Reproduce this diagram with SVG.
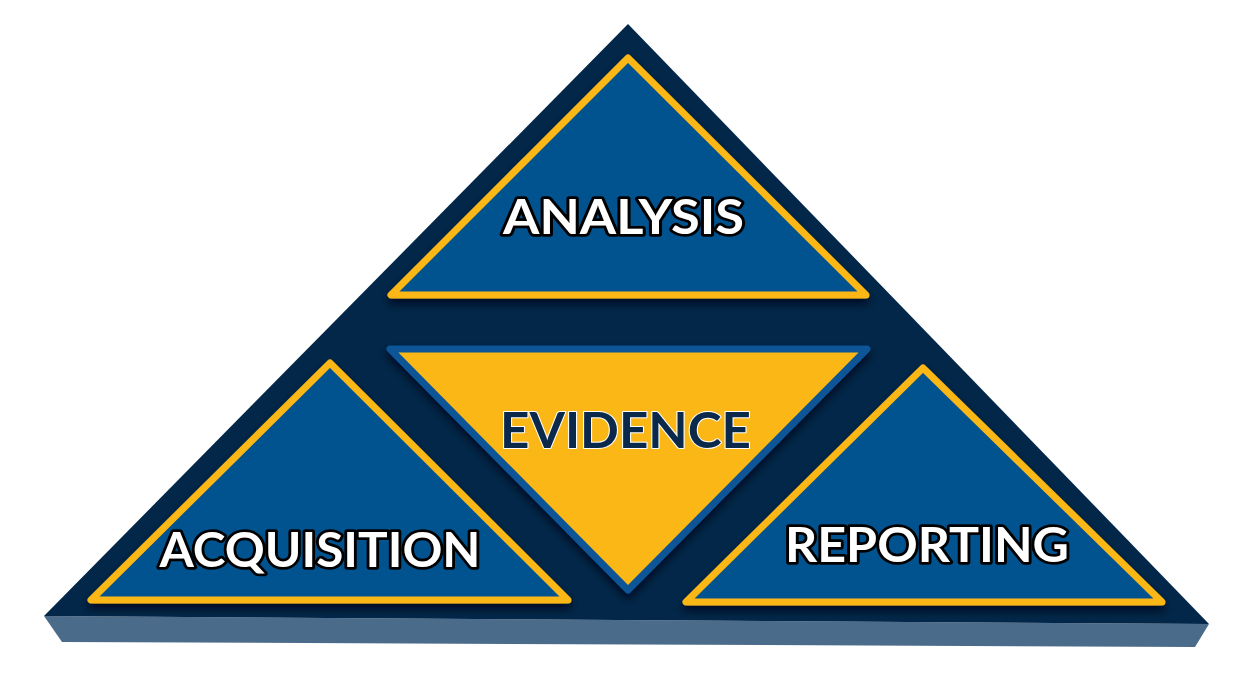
<svg xmlns="http://www.w3.org/2000/svg" width="1246" height="679" viewBox="0 0 1246 679">
<defs>
<filter id="sh" x="-10%" y="-10%" width="120%" height="130%">
<feGaussianBlur in="SourceAlpha" stdDeviation="4"/>
<feOffset dx="0" dy="5" result="b"/>
<feFlood flood-color="#000814" flood-opacity="0.75"/>
<feComposite in2="b" operator="in"/>
<feMerge><feMergeNode/><feMergeNode in="SourceGraphic"/></feMerge>
</filter>
<style>
.tri{fill:#04528f;stroke:#fbb716;stroke-width:7;stroke-linejoin:round}
.ev{fill:#fbb716;stroke:#0a5596;stroke-width:7;stroke-linejoin:round}
.lbl{font-family:"Lato","Liberation Sans",sans-serif;font-weight:700;font-size:47px;text-anchor:middle;fill:#ffffff;stroke:#000000;stroke-width:5.5;stroke-linejoin:round;paint-order:stroke}
.evl{font-family:"Lato","Liberation Sans",sans-serif;font-weight:700;font-size:49px;text-anchor:middle;fill:#0b2a4b;stroke:#ffffff;stroke-width:2;stroke-linejoin:round;paint-order:stroke}
</style>
</defs>
<g id="base">
<polygon points="44,616 1209,624 1195,647 62,642" fill="#4b6b8b"/>
<polygon points="628,24 44,616 1209,624" fill="#022749"/>
</g>
<g id="analysis">
<polygon class="tri" filter="url(#sh)" points="628,58 391,295 866,295"/>
<text class="lbl" x="623.5" y="234" textLength="241" lengthAdjust="spacingAndGlyphs">ANALYSIS</text>
</g>
<g id="evidence">
<polygon class="ev" filter="url(#sh)" points="390,349 867,349 628,590"/>
<text class="evl" x="625.5" y="448" textLength="251" lengthAdjust="spacingAndGlyphs">EVIDENCE</text>
</g>
<g id="acquisition">
<polygon class="tri" filter="url(#sh)" points="330,363 91,600 568,600"/>
<text class="lbl" x="320" y="567" textLength="321" lengthAdjust="spacingAndGlyphs">ACQUISITION</text>
</g>
<g id="reporting">
<polygon class="tri" filter="url(#sh)" points="923,368 686,602 1162,602"/>
<text class="lbl" x="927" y="562" textLength="284" lengthAdjust="spacingAndGlyphs">REPORTING</text>
</g>
<g id="connectors"></g>
</svg>
